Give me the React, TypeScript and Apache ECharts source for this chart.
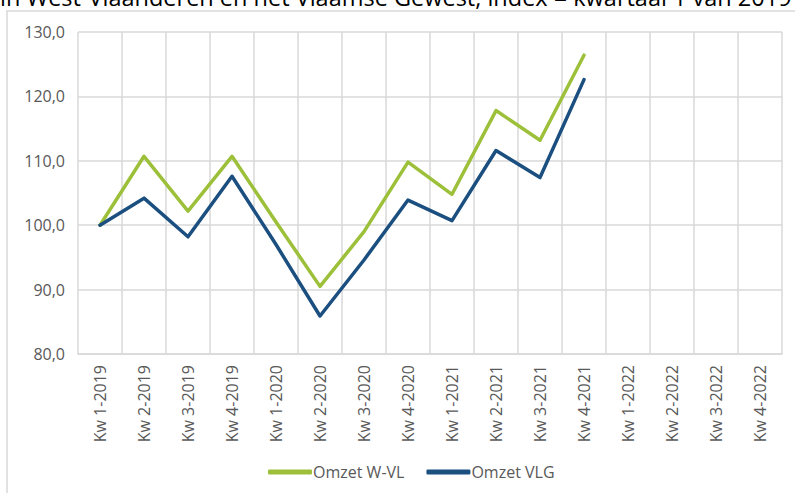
import React, { useEffect, useRef } from "react";
import * as echarts from "echarts";

const titleText = "in West-Vlaanderen en het Vlaamse Gewest, index = kwartaal 1 van 2019";

const categories = [
  "Kw 1-2019", "Kw 2-2019", "Kw 3-2019", "Kw 4-2019",
  "Kw 1-2020", "Kw 2-2020", "Kw 3-2020", "Kw 4-2020",
  "Kw 1-2021", "Kw 2-2021", "Kw 3-2021", "Kw 4-2021",
  "Kw 1-2022", "Kw 2-2022", "Kw 3-2022", "Kw 4-2022",
];

const omzetWVL: (number | null)[] = [
  100.0, 110.7, 102.2, 110.7, 100.5, 90.5, 99.0, 109.8,
  104.8, 117.8, 113.2, 126.4, null, null, null, null,
];

const omzetVLG: (number | null)[] = [
  100.0, 104.2, 98.2, 107.6, 97.0, 85.9, 94.6, 103.9,
  100.7, 111.6, 107.4, 122.6, null, null, null, null,
];

const seriesNames = ["Omzet W-VL", "Omzet VLG"];
const seriesColors = ["#9DC03A", "#1B4F80"];

export default function App() {
  const ref = useRef<HTMLDivElement>(null);

  useEffect(() => {
    if (!ref.current) return;
    const chart = echarts.init(ref.current, null, { renderer: "svg" });
    const font = "'Open Sans', 'Liberation Sans', sans-serif";
    chart.setOption({
      animation: false,
      backgroundColor: "#ffffff",
      textStyle: { fontFamily: font },
      graphic: [
        {
          type: "rect",
          shape: { x: 7, y: 11, width: 820, height: 520 },
          style: { fill: "none", stroke: "#d9d9d9", lineWidth: 1.5 },
          silent: true,
        },
        {
          type: "text",
          x: 0,
          y: 9,
          style: {
            text: titleText,
            fill: "#000000",
            font: `23.5px ${font}`,
            verticalAlign: "bottom",
          },
          silent: true,
        },
      ],
      legend: {
        left: 268,
        top: 464,
        padding: 0,
        icon: "roundRect",
        itemWidth: 44,
        itemHeight: 5,
        itemGap: 22,
        textStyle: { color: "#595959", fontSize: 16, fontFamily: font, padding: [0, 0, 0, -4] },
        data: seriesNames,
      },
      grid: { left: 78, top: 32, right: 13, bottom: 139, containLabel: false },
      xAxis: {
        type: "category",
        data: categories,
        boundaryGap: true,
        axisLine: { show: true, lineStyle: { color: "#d9d9d9", width: 1.5 } },
        axisTick: { show: false },
        splitLine: { show: true, lineStyle: { color: "#d9d9d9", width: 1.5 } },
        axisLabel: {
          rotate: 90,
          interval: 0,
          margin: 11,
          color: "#595959",
          fontSize: 16,
          fontFamily: font,
        },
      },
      yAxis: {
        type: "value",
        min: 80,
        max: 130,
        interval: 10,
        axisLine: { show: false },
        axisTick: { show: false },
        splitLine: { show: true, lineStyle: { color: "#d9d9d9", width: 1.5 } },
        axisLabel: {
          margin: 13,
          color: "#595959",
          fontSize: 16,
          fontFamily: font,
          formatter: (v: number) => v.toFixed(1).replace(".", ","),
        },
      },
      series: [
        {
          name: seriesNames[0],
          type: "line",
          data: omzetWVL,
          symbol: "none",
          color: seriesColors[0],
          lineStyle: { width: 3.5, color: seriesColors[0], cap: "round", join: "round" },
        },
        {
          name: seriesNames[1],
          type: "line",
          data: omzetVLG,
          symbol: "none",
          color: seriesColors[1],
          lineStyle: { width: 3.5, color: seriesColors[1], cap: "round", join: "round" },
        },
      ],
    });
    return () => chart.dispose();
  }, []);

  return (
    <div
      ref={ref}
      style={{ position: "fixed", left: 0, top: 0, width: 795, height: 493 }}
    />
  );
}
